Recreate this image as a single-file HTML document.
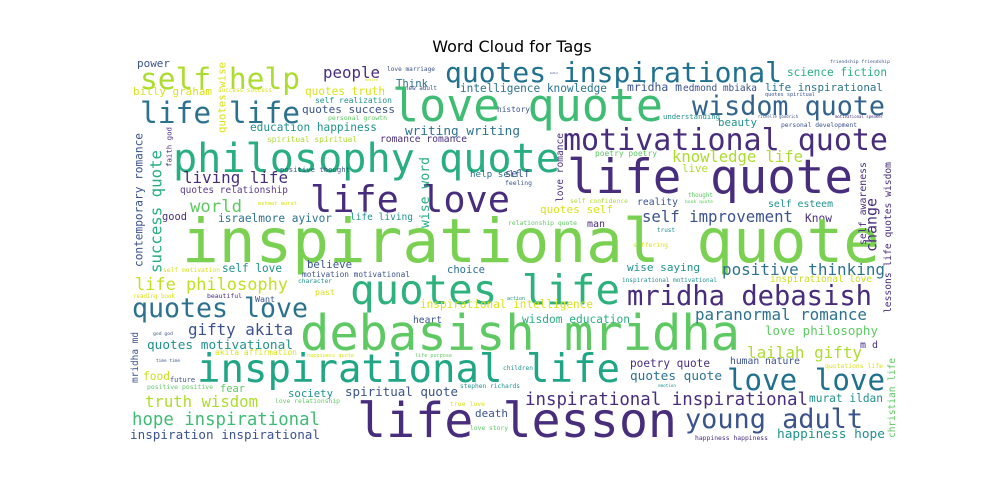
<!DOCTYPE html>
<html><head><meta charset="utf-8"><style>
html,body{margin:0;padding:0;background:#fff;width:1000px;height:500px;overflow:hidden}
svg{display:block}
text{font-family:"DejaVu Sans Mono","Liberation Mono",monospace}
</style></head><body>
<svg id="cloud" width="1000" height="500" viewBox="0 0 1000 500" xmlns="http://www.w3.org/2000/svg">
<text x="512" y="52" text-anchor="middle" style="font-family:'DejaVu Sans','Liberation Sans',sans-serif;font-size:16px" fill="#000">Word Cloud for Tags</text>
<g id="words"></g>
</svg>
<script>
const P="#472d7b",B="#3b528b",T="#2c728e",C="#21918c",G="#28ae80",L="#5ec962",Y="#addc30",YY="#d8e219";
const words=[
["power",137,67,33,B],["self help",140,89,160,Y],["billy graham",133,95,79,YY],["life life",140,123,160,T],
["people",323,78,57,P],["quotes truth",305,95,80,YY],["self realization",315,103,77,C],["quotes success",302,113,93,B],
["personal growth",328,120,59,L],["education happiness",250,131,127,C],["spiritual spiritual",267,142,90,Y],
["Think",396,87,32,T],["love marriage",387,71,48,B],["desire",365,81,13,YY],["new adult",405,90,32,B],
["success success",218,92,54,YY],["love quote",392,121,271,"#3fbc73"],["writing writing",405,135,115,T],
["romance romance",380,142,87,P],["philosophy quote",173,172,387,G],["living life",183,183,105,P],
["quotes relationship",180,193,108,"#5b3c8c"],["positive thought",280,172,70,B],["world",190,212,52,L],
["mehmet murat",258,205,39,YY],["good",162,220,25,P],["israelmore ayivor",218,222,114,T],["life living",350,220,63,C],
["life love",310,212,200,P],["help self",470,177,50,T],["intelligence knowledge",460,92,147,T],
["quotes inspirational",445,82,337,"#21718e"],["history",497,112,33,B],["science fiction",787,76,100,G],
["friendship friendship",830,63,60,B],["better",550,74,8,B],["mridha m",627,91,55,B],["edmond mbiaka",683,91,74,B],
["life inspirational",765,91,118,T],["wisdom quote",692,115,193,"#33638d"],["quotes spiritual",765,96,50,B],
["motivational quote",563,150,325,P],["beauty",718,126,39,C],["personal development",781,127,76,B],
["understanding",663,119,57,C],["richelle goodrich",758,118,40,B],["motivational speaker",835,118,48,P],
["knowledge life",672,162,131,Y],["poetry poetry",595,156,62,L],["live",682,172,26,Y],["life quote",567,193,286,P],
["reality",637,205,41,B],["self confidence",570,203,58,Y],["thought",688,197,25,L],["book quote",685,203,28,L],
["self esteem",768,207,65,C],["quotes self",540,213,73,YY],["self improvement",642,222,151,B],["Know",805,222,27,P],
["man",587,227,18,P],["relationship quote",508,225,69,L],["trust",657,232,18,C],["suffering",633,247,35,YY],
["self",505,177,25,B],["feeling",505,185,27,B],["inspirational quote",182,262,698,"#7ad151"],
["quotes life",350,304,270,"#2db27d"],["self motivation",163,272,57,YY],["self love",222,272,60,C],
["believe",307,268,45,B],["motivation motivational",302,277,108,B],["character",298,283,34,C],["choice",447,273,38,T],
["life philosophy",135,290,153,"#c2df23"],["past",315,295,20,YY],["beautiful",207,298,35,P],["Want",255,302,20,B],
["reading book",133,298,42,YY],["quotes love",132,317,176,T],["inspirational intelligence",420,308,173,YY],
["heart",413,323,29,B],["gifty akita",188,335,105,B],["quotes motivational",147,349,146,C],
["akita affirmation",215,355,82,YY],["debasish mridha",300,350,440,L],["wise saying",627,271,73,C],
["positive thinking",722,275,163,T],["inspirational motivational",622,282,95,C],["inspirational love",770,282,102,"#c8e020"],
["mridha debasish",627,305,245,P],["paranormal romance",695,320,172,T],["wisdom education",522,323,108,G],
["love philosophy",765,335,113,L],["lailah gifty",747,358,115,Y],["m d",860,348,18,P],["poetry quote",630,367,80,P],
["human nature",730,364,70,B],["quotes quote",630,380,92,T],["quotations life",825,368,58,YY],
["love love",727,390,158,"#21718e"],["inspirational life",197,382,423,"#21a685"],["food",143,380,27,"#c8e020"],
["future",170,382,25,B],["fear",220,392,25,L],["positive positive",147,389,66,L],["society",288,397,45,C],
["spiritual quote",345,396,113,B],["stephen richards",460,388,60,C],["truth wisdom",145,407,113,Y],
["love relationship",275,403,65,L],["true love",450,406,35,YY],["death",475,417,33,B],
["hope inspirational",132,425,188,"#3fbc73"],["inspiration inspirational",130,439,190,B],["life lesson",357,437,320,P],
["love story",470,430,38,L],["children",503,370,30,C],["action",507,300,18,C],
["inspirational inspirational",525,405,283,P],["murat ildan",809,402,74,C],["young adult",685,428,178,B],
["happiness hope",777,438,108,C],["happiness happiness",695,440,73,P],["emotion",658,387,18,C],
["time time",156,362,24,B],["god god",153,335,20,B],["happiness quote",307,357,47,YY],["life purpose",415,357,37,L]
];
const verticalWords=[
["quotes wise",228,133,71,YY],["contemporary romance",145,267,134,B],["success quote",165,273,123,G],
["faith god",173,167,40,P],["wise word",432,228,71,G],["love romance",565,202,69,P],["self awareness",868,245,83,P],
["change",880,252,54,P],["lessons life quotes wisdom",893,313,151,P],["mridha md",140,383,51,B],["christian life",897,438,80,L]
];
const NS="http://www.w3.org/2000/svg";
const g=document.getElementById('words');
function slug(s){return 'word-'+s.toLowerCase().replace(/[^a-z0-9]+/g,'-');}
words.forEach(w=>{
  const t=document.createElementNS(NS,'text');
  const fs=w[3]/(0.602*w[0].length);
  t.setAttribute('x',w[1]);t.setAttribute('y',w[2]);
  t.setAttribute('font-size',fs.toFixed(2));
  t.setAttribute('textLength',w[3]);t.setAttribute('lengthAdjust','spacingAndGlyphs');
  t.setAttribute('fill',w[4]);
  
  
  t.textContent=w[0];g.appendChild(t);
});
verticalWords.forEach(w=>{
  const t=document.createElementNS(NS,'text');
  const fs=w[3]/(0.602*w[0].length);
  const x=w[1]-fs*0.22;
  t.setAttribute('x',x);t.setAttribute('y',w[2]);
  t.setAttribute('transform','rotate(-90 '+x+' '+w[2]+')');
  t.setAttribute('font-size',fs.toFixed(2));
  t.setAttribute('textLength',w[3]);t.setAttribute('lengthAdjust','spacingAndGlyphs');
  t.setAttribute('fill',w[4]);
  
  
  t.textContent=w[0];g.appendChild(t);
});
</script>
</body></html>
